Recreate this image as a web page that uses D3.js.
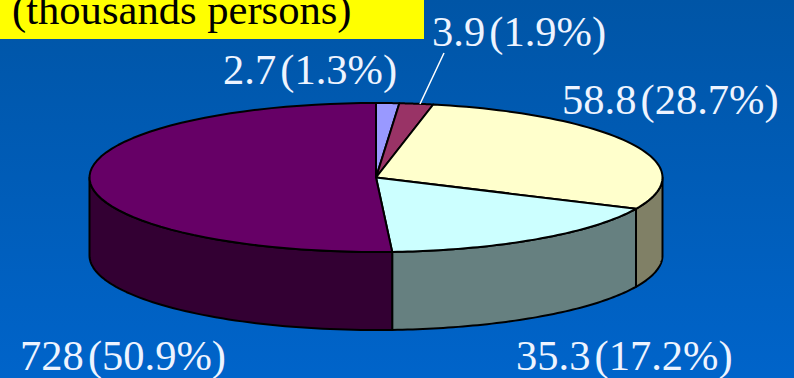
<!DOCTYPE html>
<html>
<head>
<meta charset="utf-8">
<script src="https://cdn.jsdelivr.net/npm/d3@7/dist/d3.min.js"></script>
<style>html,body{margin:0;padding:0;background:#0060c0;overflow:hidden}svg{display:block}</style>
</head>
<body>
<script>
const categories = ["a", "b", "c", "d", "e"];
const percents = [1.3, 1.9, 28.7, 17.2, 50.9];
const valueLabels = ["2.7", "3.9", "58.8", "35.3", "728"];
const percentLabels = ["1.3%", "1.9%", "28.7%", "17.2%", "50.9%"];
const topColors = ["#9999ff", "#993366", "#ffffcc", "#ccffff", "#660066"];
const sideColors = ["#666699", "#662244", "#808066", "#668080", "#330033"];
const labelPos = [[223, 84], [432, 46], [562, 114], [516, 370], [20, 370]];
const titleText = "(thousands persons)";

const W = 794, H = 378, cx = 376, cy = 177.5, rx = 286.5, ry = 74.5, depth = 78;
const svg = d3.select("body").append("svg").attr("width", W).attr("height", H);

const grad = svg.append("defs").append("linearGradient").attr("id", "bg")
  .attr("x1", 0).attr("y1", 0).attr("x2", 0).attr("y2", 1);
grad.append("stop").attr("offset", "0%").attr("stop-color", "#0055a6");
grad.append("stop").attr("offset", "100%").attr("stop-color", "#0064ca");
svg.append("rect").attr("width", W).attr("height", H).attr("fill", "url(#bg)");

svg.append("rect").attr("width", 424).attr("height", 39).attr("fill", "#ffff00");
svg.append("text").attr("x", 12).attr("y", 24).text(titleText)
  .attr("font-family", "Liberation Serif").attr("font-size", 42.6).attr("fill", "#000");

const x = d3.scaleLinear().domain([-1, 1]).range([cx - rx, cx + rx]);
const y = d3.scaleLinear().domain([-1, 1]).range([cy + ry, cy - ry]);
const line = d3.line();
const rim = (a, dy = 0) => [x(Math.sin(a)), y(Math.cos(a)) + dy];
const arcPts = (a0, a1, dy = 0) => d3.range(0, 61).map(i => rim(a0 + (a1 - a0) * i / 60, dy));

const slices = d3.pie().sort(null).value(d => d)(percents);
const ink = { stroke: "#000", "stroke-width": 2, "stroke-linejoin": "round" };
const style = (s) => { Object.entries(ink).forEach(([k, v]) => s.attr(k, v)); return s; };

// Sides (only the front half of the rim is visible)
slices.forEach((d, i) => {
  const a0 = Math.max(d.startAngle, Math.PI / 2), a1 = Math.min(d.endAngle, 3 * Math.PI / 2);
  if (a1 <= a0) return;
  const pts = arcPts(a0, a1).concat(arcPts(a1, a0, depth));
  style(svg.append("path").attr("d", line(pts) + "Z").attr("fill", sideColors[i]));
});

// Top face
slices.forEach((d, i) => {
  const pts = [[cx, cy]].concat(arcPts(d.startAngle, d.endAngle));
  style(svg.append("path").attr("d", line(pts) + "Z").attr("fill", topColors[i]));
});

// Leader line for the second slice
svg.append("line").attr("x1", 420).attr("y1", 104).attr("x2", 444).attr("y2", 53)
  .attr("stroke", "#fff").attr("stroke-width", 1.5);

// Labels
svg.selectAll("text.lab").data(categories).enter().append("text").attr("class", "lab")
  .attr("x", (d, i) => labelPos[i][0]).attr("y", (d, i) => labelPos[i][1])
  .attr("font-family", "Liberation Serif").attr("font-size", 42.5).attr("word-spacing", -6.5).attr("fill", "#eef4ff")
  .text((d, i) => `${valueLabels[i]} (${percentLabels[i]})`);
</script>
</body>
</html>
